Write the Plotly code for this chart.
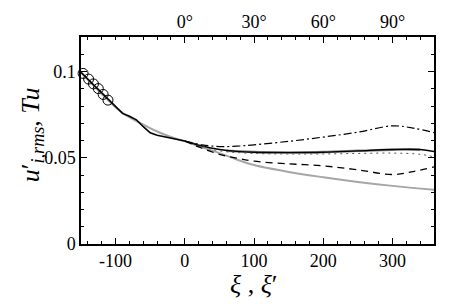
import plotly.graph_objects as go

# ---- data ----
xi_base = [-150, -140, -130, -120, -110, -100, -90, -80, -70, -60, -50, -40, -30, -20, -10, 0]
u_base = [0.0995, 0.0955, 0.0915, 0.0875, 0.0834, 0.0795, 0.0757, 0.0740, 0.0720, 0.0680, 0.0645, 0.0630, 0.0622, 0.0613, 0.0605, 0.0597]

xi_gray = [-150, -120, -90, -60, -40, -20, 0, 25, 50, 75, 100, 150, 200, 250, 300, 360]
u_gray = [0.0995, 0.0870, 0.0760, 0.0692, 0.0652, 0.0620, 0.0595, 0.0560, 0.0527, 0.0490, 0.0458, 0.0418, 0.0387, 0.0360, 0.0337, 0.0314]

xi_sol = [0, 25, 50, 75, 100, 150, 200, 250, 300, 340, 360]
u_sol = [0.0597, 0.0568, 0.0548, 0.0537, 0.0532, 0.0530, 0.0532, 0.0540, 0.0548, 0.0548, 0.0536]

xi_gsol = [60, 100, 150, 200, 250, 300, 340]
u_gsol = [0.0540, 0.0533, 0.0531, 0.0533, 0.0540, 0.0547, 0.0547]

xi_dd = [0, 25, 50, 75, 100, 150, 200, 250, 300, 330, 360]
u_dd = [0.0597, 0.0575, 0.0565, 0.0567, 0.0575, 0.0595, 0.0620, 0.0648, 0.0685, 0.0672, 0.0646]

xi_dot = [10, 30, 50, 100, 150, 200, 250, 300, 340, 360]
u_dot = [0.0590, 0.0560, 0.0540, 0.0525, 0.0522, 0.0522, 0.0525, 0.0527, 0.0520, 0.0505]

xi_dash = [0, 25, 50, 75, 100, 150, 200, 250, 300, 330, 360]
u_dash = [0.0597, 0.0555, 0.0520, 0.0498, 0.0480, 0.0465, 0.0453, 0.0430, 0.0403, 0.0420, 0.0447]

xi_circ = [-147, -139, -132, -125, -118, -111]
u_circ = [0.0989, 0.0956, 0.0928, 0.0901, 0.0867, 0.0834]

x_ticks = [-100, 0, 100, 200, 300]
x_ticktext = ["-100", "0", "100", "200", "300"]
y_ticks = [0, 0.05, 0.1]
y_ticktext = ["0", "0.05", "0.1"]
top_ticks = [0, 100, 200, 300]
top_ticktext = ["0°", "30°", "60°", "90°"]

FONT = "Liberation Serif"

fig = go.Figure()
fig.add_trace(go.Scatter(x=xi_gray, y=u_gray, mode="lines",
                         line=dict(color="#a6a6a6", width=2, shape="spline"), showlegend=False))
fig.add_trace(go.Scatter(x=xi_gsol, y=u_gsol, mode="lines",
                         line=dict(color="#888888", width=2.5, shape="spline"), showlegend=False))
fig.add_trace(go.Scatter(x=xi_base, y=u_base, mode="lines",
                         line=dict(color="black", width=1.6), showlegend=False))
fig.add_trace(go.Scatter(x=xi_sol, y=u_sol, mode="lines",
                         line=dict(color="black", width=1.4, shape="spline"), showlegend=False))
fig.add_trace(go.Scatter(x=xi_dd, y=u_dd, mode="lines",
                         line=dict(color="black", width=1.2, dash="8px,3px,2px,3px", shape="spline"), showlegend=False))
fig.add_trace(go.Scatter(x=xi_dot, y=u_dot, mode="lines",
                         line=dict(color="#555555", width=1, dash="2px,4px", shape="spline"), showlegend=False))
fig.add_trace(go.Scatter(x=xi_dash, y=u_dash, mode="lines",
                         line=dict(color="black", width=1.3, dash="7px,5px", shape="spline"), showlegend=False))
fig.add_trace(go.Scatter(x=xi_circ, y=u_circ, mode="markers",
                         marker=dict(symbol="circle-open", size=10, color="black", line=dict(width=1)),
                         showlegend=False, cliponaxis=False))
# dummy trace for top axis
fig.add_trace(go.Scatter(x=[0], y=[0], xaxis="x2", mode="markers",
                         marker=dict(opacity=0), showlegend=False, hoverinfo="skip"))

axis_common = dict(showline=True, linecolor="black", linewidth=1.5, ticks="inside",
                   ticklen=6, tickwidth=1, tickcolor="black", showgrid=False, zeroline=False,
                   tickfont=dict(family=FONT, size=18, color="black"))

fig.update_layout(
    width=457, height=308,
    margin=dict(l=81, r=23, t=28, b=64),
    paper_bgcolor="white", plot_bgcolor="white",
    font=dict(family=FONT, color="black"),
    xaxis=dict(range=[-150, 360], tickmode="array", tickvals=x_ticks, ticktext=x_ticktext,
               mirror=False, ticklabelstandoff=0,
               minor=dict(dtick=20, tick0=0, ticks="inside", ticklen=3, tickcolor="black"),
               **axis_common),
    xaxis2=dict(range=[-150, 360], overlaying="x", side="top", tickmode="array",
                tickvals=top_ticks, ticktext=top_ticktext, anchor="y",
                minor=dict(dtick=20, tick0=0, ticks="inside", ticklen=3, tickcolor="black"),
                **axis_common),
    yaxis=dict(range=[0, 0.12], tickmode="array", tickvals=y_ticks, ticktext=y_ticktext,
               mirror="ticks", ticklabelstandoff=0,
               minor=dict(dtick=0.01, tick0=0, ticks="inside", ticklen=3, tickcolor="black"),
               **axis_common),
    annotations=[
        dict(text="<i>ξ</i> , <i>ξ</i>′", xref="paper", yref="paper", x=0.49, y=-0.115, yanchor="top",
             showarrow=False, font=dict(family=FONT, size=26, color="black")),
        dict(text="<i>u</i>′<sub><i>i,rms</i></sub>, <i>Tu</i>", xref="paper", yref="paper",
             x=-0.19, y=0.53, textangle=-90, showarrow=False,
             font=dict(family=FONT, size=26, color="black")),
    ],
)
fig.write_html("out.html", config={"displayModeBar": False},
               post_script="document.body.style.margin='0';document.body.style.overflow='hidden';")
